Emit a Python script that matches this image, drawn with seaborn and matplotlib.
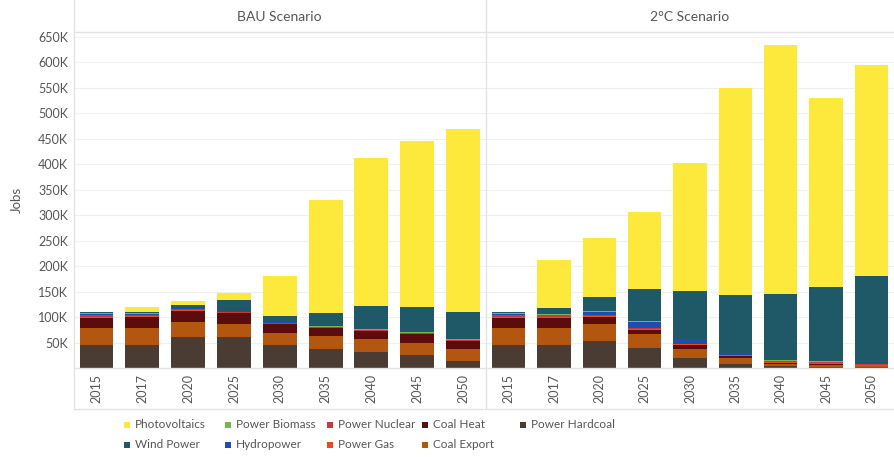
import pandas as pd
import numpy as np
import seaborn as sns
import matplotlib.pyplot as plt
from matplotlib.patches import Rectangle
from matplotlib.lines import Line2D
from matplotlib.ticker import FuncFormatter

# years and job sources (values in thousands of jobs)
years = ["2015", "2017", "2020", "2025", "2030", "2035", "2040", "2045", "2050"]
scenarios = ["BAU Scenario", "2°C Scenario"]

# stacked from the bottom up
sources = ["Power Hardcoal", "Coal Export", "Coal Heat", "Power Gas", "Power Nuclear",
           "Hydropower", "Power Biomass", "Wind Power", "Photovoltaics"]
colors = {
    "Photovoltaics": "#fde93b",
    "Wind Power": "#1f5866",
    "Power Biomass": "#76b64a",
    "Hydropower": "#1d4fb3",
    "Power Nuclear": "#c8383e",
    "Power Gas": "#ec4a1c",
    "Coal Heat": "#5c0c0c",
    "Coal Export": "#b3560f",
    "Power Hardcoal": "#4a3c32",
}

bau_hardcoal = [45, 45, 61, 61, 45, 37, 32, 25, 14]
bau_export = [33, 33, 29, 26, 23, 26, 24, 25, 24]
bau_heat = [21, 22, 22, 20, 18, 15, 16, 16, 14]
bau_gas = [2, 2, 2, 1, 1, 1, 1, 1, 1]
bau_nuclear = [3, 2, 2, 2, 2, 1, 1, 1, 1]
bau_hydro = [1, 1, 1, 1, 1, 1, 1, 1, 1]
bau_biomass = [2, 2, 1, 1, 1, 1, 1, 1, 1]
bau_wind = [2, 3, 6, 21, 11, 25, 46, 49, 54]
bau_pv = [1, 10, 8, 15, 78, 223, 289, 326, 358]

c2_hardcoal = [45, 45, 53, 39, 19, 8, 4, 2, 1]
c2_export = [33, 34, 33, 27, 18, 12, 4, 4, 2]
c2_heat = [21, 20, 14, 8, 8, 4, 1, 1, 1]
c2_gas = [2, 2, 2, 3, 2, 1, 2, 2, 2]
c2_nuclear = [3, 2, 2, 2, 1, 1, 2, 2, 2]
c2_hydro = [1, 1, 6, 12, 8, 3, 1, 1, 1]
c2_biomass = [2, 2, 1, 1, 1, 1, 1, 1, 1]
c2_wind = [2, 12, 28, 62, 95, 113, 130, 146, 170]
c2_pv = [1, 93, 116, 151, 250, 407, 488, 370, 414]

data = {
    "BAU Scenario": [bau_hardcoal, bau_export, bau_heat, bau_gas, bau_nuclear,
                     bau_hydro, bau_biomass, bau_wind, bau_pv],
    "2°C Scenario": [c2_hardcoal, c2_export, c2_heat, c2_gas, c2_nuclear,
                     c2_hydro, c2_biomass, c2_wind, c2_pv],
}

rows = []
for sc in scenarios:
    for src, vals in zip(sources, data[sc]):
        for yr, v in zip(years, vals):
            rows.append({"Scenario": sc, "Year": yr, "Source": src, "Jobs": v})
df = pd.DataFrame(rows)

sns.set_theme(style="white")
plt.rcParams["font.family"] = ["Lato", "DejaVu Sans"]
grey = "#555555"

W, H = 894, 457
fig = plt.figure(figsize=(W / 100, H / 100), dpi=100)

def px(x0, y0, x1, y1):
    return [x0 / W, 1 - y1 / H, (x1 - x0) / W, (y1 - y0) / H]

left, mid, right = 73.6, 486, 894
top, base = 32, 368
axes = [fig.add_axes(px(left, top, mid, base)), fig.add_axes(px(mid, top, right, base))]

for ax, sc in zip(axes, scenarios):
    sub = df[df["Scenario"] == sc].pivot(index="Year", columns="Source", values="Jobs")
    sub = sub.loc[years, sources]
    cum = sub.cumsum(axis=1)
    for src in reversed(sources):
        sns.barplot(x=cum.index, y=cum[src].values, order=years, color=colors[src],
                    width=0.74, saturation=1, linewidth=0, errorbar=None, ax=ax)
    ax.set_ylim(0, 659)
    ax.set_xlim(-0.5, len(years) - 0.5)
    ax.set_yticks(np.arange(50, 651, 50))
    ax.yaxis.grid(True, color="#f0f0f0", linewidth=0.8)
    ax.set_axisbelow(True)
    for s in ax.spines.values():
        s.set_visible(False)
    ax.set_xlabel("")
    ax.set_ylabel("")
    ax.tick_params(axis="x", rotation=90, labelsize=9, colors=grey, length=0, pad=4)
    ax.tick_params(axis="y", labelsize=9, colors=grey, length=0, pad=4)
    ax.set_facecolor("none")

fig.text((left + mid) / 2 / W, 1 - 17 / H, scenarios[0], ha="center", va="center",
         fontsize=10, color=grey)
fig.text((mid + right) / 2 / W, 1 - 17 / H, scenarios[1], ha="center", va="center",
         fontsize=10, color=grey)

axes[0].yaxis.set_major_formatter(FuncFormatter(lambda v, p: f"{v:.0f}K"))
axes[1].set_yticklabels([])
axes[0].set_ylabel("Jobs", fontsize=9.5, color=grey, labelpad=11)

# panel frame lines
line_col = "#e3e3e3"
fig.add_artist(Line2D([left / W, 1], [1 - top / H] * 2, color=line_col, lw=1))
fig.add_artist(Line2D([left / W, 1], [1 - base / H] * 2, color=line_col, lw=1))
fig.add_artist(Line2D([left / W, 1], [1 - 409 / H] * 2, color=line_col, lw=1))
fig.add_artist(Line2D([left / W] * 2, [1 - 409 / H, 1], color=line_col, lw=1))
fig.add_artist(Line2D([mid / W] * 2, [1 - 409 / H, 1], color=line_col, lw=1))

# legend laid out in fixed-width columns, two rows
legend_order = ["Photovoltaics", "Wind Power", "Power Biomass", "Hydropower",
                "Power Nuclear", "Power Gas", "Coal Heat", "Coal Export", "Power Hardcoal"]
col_x = [127, 228, 330, 425, 523]
row_y = [425, 445]
for i, src in enumerate(legend_order):
    cx, cy = col_x[i // 2], row_y[i % 2]
    fig.add_artist(Rectangle(((cx - 3) / W, 1 - (cy + 3) / H), 6 / W, 6 / H,
                             transform=fig.transFigure, facecolor=colors[src],
                             edgecolor="none"))
    fig.text((cx + 8) / W, 1 - cy / H, src, ha="left", va="center",
             fontsize=8.5, color=grey)

fig.savefig("out.png", dpi=100)
